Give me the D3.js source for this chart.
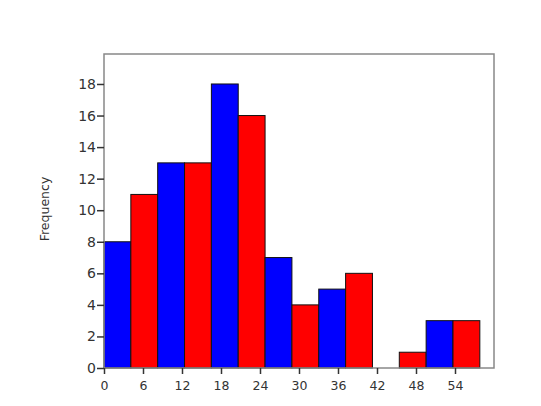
<!DOCTYPE html>
<html>
<head>
<meta charset="utf-8">
<script src="https://cdn.jsdelivr.net/npm/d3@7"></script>
<style>
  body { margin: 0; background: #fff; }
  svg { display: block; }
</style>
</head>
<body>
<div id="chart"></div>
<script>
// histogram data
const binWidth = 4.13;
const counts = [8, 11, 13, 13, 18, 16, 7, 4, 5, 6, 0, 1, 3, 3];
const barColors = ["#0000ff", "#ff0000"];
const xTicks = [0, 6, 12, 18, 24, 30, 36, 42, 48, 54];
const yTicks = [0, 2, 4, 6, 8, 10, 12, 14, 16, 18];

const width = 541, height = 406;
const plot = { left: 104, right: 494, top: 54, bottom: 368 };

const bins = counts.map((c, i) => ({ x0: i * binWidth, x1: (i + 1) * binWidth, count: c, i: i }));

const x = d3.scaleLinear().domain([0, 60]).range([plot.left, plot.right]);
const y = d3.scaleLinear().domain([0, 19.9]).range([plot.bottom, plot.top]);

const svg = d3.select("#chart")
    .append("svg")
    .attr("width", width)
    .attr("height", height);

// bars
svg.selectAll(".bar")
    .data(bins)
    .enter().append("rect")
    .attr("class", "bar")
    .attr("x", d => x(d.x0))
    .attr("width", d => x(d.x1) - x(d.x0))
    .attr("y", d => y(d.count))
    .attr("height", d => y(0) - y(d.count))
    .attr("fill", d => barColors[d.i % 2])
    .attr("stroke", "#111")
    .attr("stroke-width", 1);

// frame
svg.append("rect")
    .attr("x", plot.left)
    .attr("y", plot.top)
    .attr("width", plot.right - plot.left)
    .attr("height", plot.bottom - plot.top)
    .attr("fill", "none")
    .attr("stroke", "#888")
    .attr("stroke-width", 1.5);

const xAxis = d3.axisBottom(x).tickValues(xTicks).tickSize(6).tickSizeOuter(0);
const yAxis = d3.axisLeft(y).tickValues(yTicks).tickSize(7).tickSizeOuter(0);

const gx = svg.append("g")
    .attr("transform", `translate(0,${plot.bottom})`)
    .call(xAxis);
gx.select(".domain").remove();
gx.selectAll(".tick line").attr("stroke", "#333").attr("stroke-width", 1.5);
gx.selectAll(".tick text")
    .attr("fill", "#333")
    .attr("dy", "1.05em")
    .style("font-family", "DejaVu Sans")
    .style("font-size", "12.5px");

const gy = svg.append("g")
    .attr("transform", `translate(${plot.left},0)`)
    .call(yAxis);
gy.select(".domain").remove();
gy.selectAll(".tick line").attr("stroke", "#333").attr("stroke-width", 1.5);
gy.selectAll(".tick text")
    .attr("fill", "#333")
    .attr("x", -8)
    .style("font-family", "DejaVu Sans")
    .style("font-size", "14px");

svg.append("text")
    .attr("transform", `translate(49,209) rotate(-90)`)
    .attr("text-anchor", "middle")
    .attr("fill", "#333")
    .style("font-family", "DejaVu Sans")
    .style("font-size", "12.5px")
    .text("Frequency");
</script>
</body>
</html>
